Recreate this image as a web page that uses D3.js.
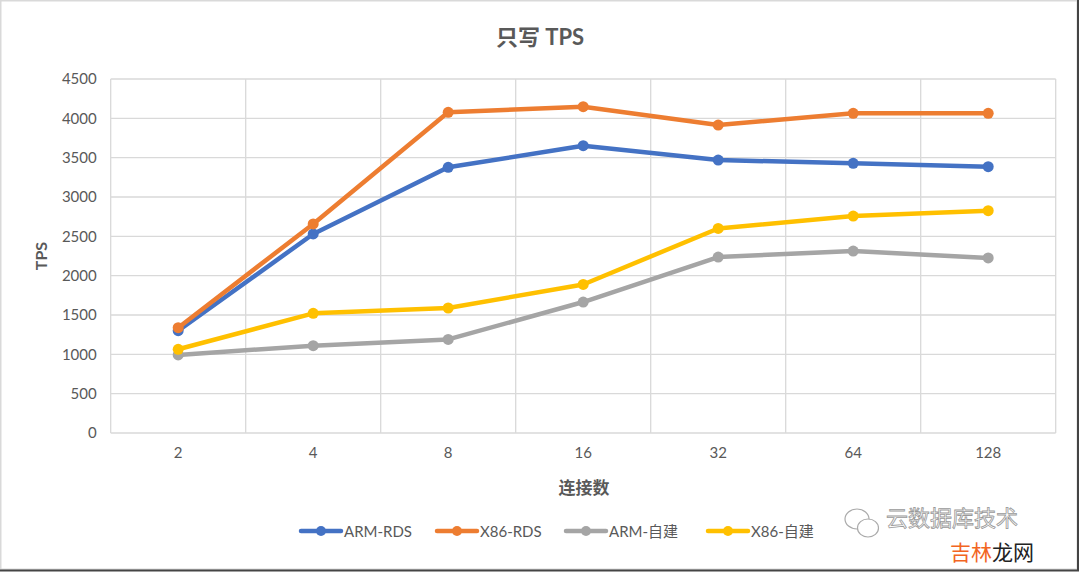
<!DOCTYPE html>
<html><head><meta charset="utf-8">
<script src="https://cdn.jsdelivr.net/npm/d3@7"></script>
<style>body{margin:0;background:#fff}svg{display:block}</style>
</head><body><svg id="c" width="1080" height="572"></svg>
<script>
const categories = ["2","4","8","16","32","64","128"];
const seriesNames = ["ARM-RDS","X86-RDS","ARM-自建","X86-自建"];
const armRds = [1300,2530,3377,3652,3470,3428,3385];
const x86Rds = [1339,2657,4077,4148,3915,4064,4064];
const armSelf = [992,1110,1190,1665,2237,2313,2225];
const x86Self = [1064,1521,1589,1888,2600,2758,2826];
const yTicks = [0,500,1000,1500,2000,2500,3000,3500,4000,4500];
const colors = ["#4472C4","#ED7D31","#A5A5A5","#FFC000"];
const allSeries = [armRds,x86Rds,armSelf,x86Self];

const font = "Lato, 'Noto Sans CJK SC', sans-serif";
const svg = d3.select("#c");
svg.append("rect").attr("x",0.5).attr("y",0.5).attr("width",1077).attr("height",569)
  .attr("fill","#fff").attr("stroke","#d9d9d9").attr("stroke-width",2);
svg.append("line").attr("x1",1078).attr("x2",1078).attr("y1",0).attr("y2",571).attr("stroke","#444").attr("stroke-width",2);
svg.append("line").attr("x1",0).attr("x2",1079).attr("y1",570.5).attr("y2",570.5).attr("stroke","#444").attr("stroke-width",2);

const L=110.7, R=1055.7, T=79, B=433;
const x = d3.scaleBand().domain(categories).range([L,R]);
const y = d3.scaleLinear().domain([0,4500]).range([B,T]);

const g = svg.append("g");
g.selectAll("line.h").data(yTicks).join("line")
  .attr("x1",L).attr("x2",R).attr("y1",d=>y(d)).attr("y2",d=>y(d))
  .attr("stroke","#d9d9d9").attr("stroke-width",1.3);
const edges = categories.map(c=>x(c)).concat([R]);
g.selectAll("line.v").data(edges).join("line")
  .attr("x1",d=>d).attr("x2",d=>d).attr("y1",T).attr("y2",B)
  .attr("stroke","#d9d9d9").attr("stroke-width",1.3);

const yAxis = d3.axisLeft(y).tickValues(yTicks).tickFormat(d3.format("d")).tickSize(0).tickPadding(14);
const ya = svg.append("g").attr("transform",`translate(${L},0)`).call(yAxis);
ya.select(".domain").remove();
ya.selectAll("text").attr("font-family",font).attr("font-size",15).attr("fill","#595959");
const xAxis = d3.axisBottom(x).tickSize(0).tickPadding(14);
const xa = svg.append("g").attr("transform",`translate(0,${B})`).call(xAxis);
xa.select(".domain").remove();
xa.selectAll("text").attr("font-family",font).attr("font-size",15).attr("fill","#595959");

const line = d3.line().x((d,i)=>x(categories[i])+x.bandwidth()/2).y(d=>y(d));
allSeries.forEach((s,k)=>{
  svg.append("path").datum(s).attr("d",line).attr("fill","none")
    .attr("stroke",colors[k]).attr("stroke-width",4.5).attr("stroke-linejoin","round").attr("stroke-linecap","round");
  svg.append("g").selectAll("circle").data(s).join("circle")
    .attr("cx",(d,i)=>x(categories[i])+x.bandwidth()/2).attr("cy",d=>y(d)).attr("r",5.5)
    .attr("fill",colors[k]);
});

svg.append("text").attr("x",540).attr("y",45).attr("text-anchor","middle")
  .attr("font-family",font).attr("font-size",22).attr("font-weight","bold").attr("fill","#595959").text("只写 TPS");
svg.append("text").attr("transform","translate(47,256) rotate(-90)").attr("text-anchor","middle")
  .attr("font-family",font).attr("font-size",16).attr("font-weight","bold").attr("fill","#595959").text("TPS");
svg.append("text").attr("x",584).attr("y",494).attr("text-anchor","middle")
  .attr("font-family",font).attr("font-size",17).attr("font-weight","bold").attr("fill","#595959").text("连接数");

const legX = [301,437,566,708];
seriesNames.forEach((n,k)=>{
  const lg = svg.append("g").attr("transform",`translate(${legX[k]},531)`);
  lg.append("line").attr("x1",0).attr("x2",40).attr("stroke",colors[k]).attr("stroke-width",4.5).attr("stroke-linecap","round");
  lg.append("circle").attr("cx",20).attr("r",5).attr("fill",colors[k]);
  lg.append("text").attr("x",43).attr("y",5.5).attr("font-family",font).attr("font-size",15).attr("fill","#595959").text(n);
});

// watermark
const wm = svg.append("g").attr("stroke","#aaa").attr("stroke-width",1.2);
wm.append("ellipse").attr("cx",857).attr("cy",519).attr("rx",12).attr("ry",10).attr("fill","#fff");
wm.append("ellipse").attr("cx",868).attr("cy",528).attr("rx",10.5).attr("ry",9).attr("fill","#fff");
svg.append("text").attr("x",886).attr("y",526).attr("font-family","'Noto Sans CJK SC', sans-serif")
  .attr("font-size",22).attr("fill","#fff").attr("stroke","#999").attr("stroke-width",0.8).text("云数据库技术");
svg.append("text").attr("x",950).attr("y",560).attr("font-family","'Noto Sans CJK SC', sans-serif")
  .attr("font-size",21).attr("fill","#F26522").text("吉林");
svg.append("text").attr("x",992).attr("y",560).attr("font-family","'Noto Sans CJK SC', sans-serif")
  .attr("font-size",21).attr("fill","#222").text("龙网");
</script></body></html>
